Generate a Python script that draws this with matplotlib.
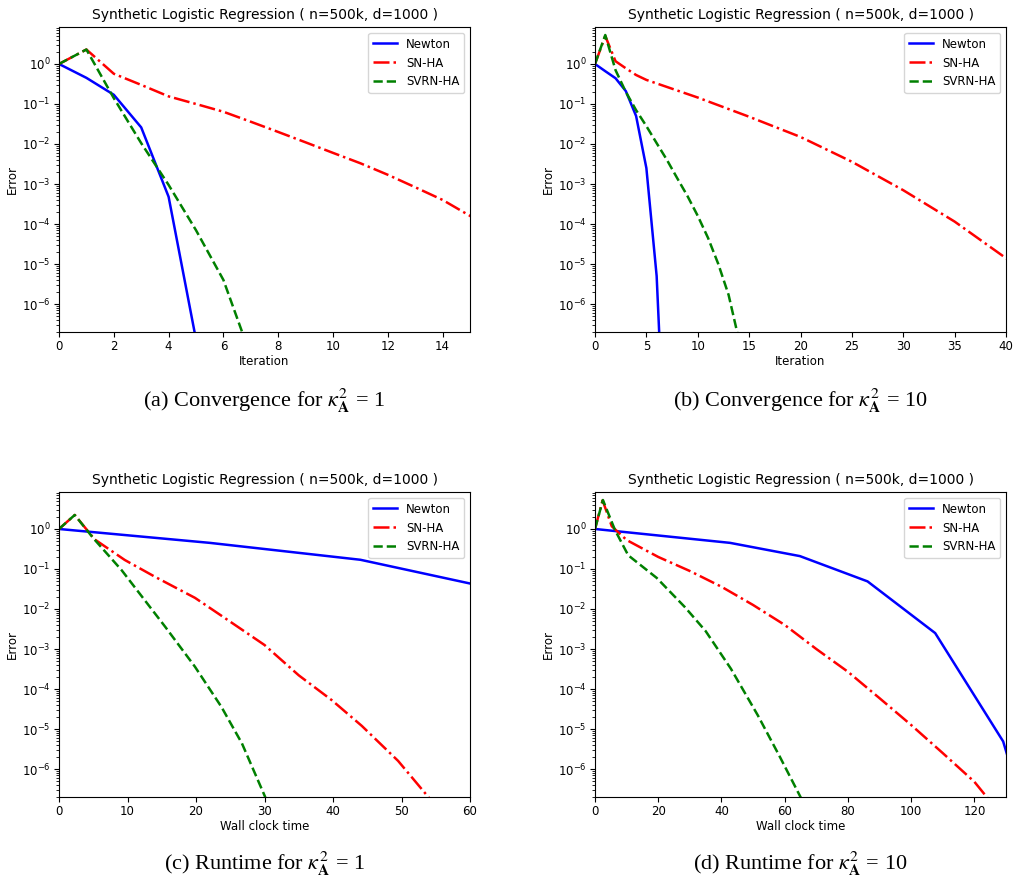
import numpy as np
import matplotlib
matplotlib.use("Agg")
import matplotlib.pyplot as plt

# ---------------- data ----------------
title = "Synthetic Logistic Regression ( n=500k, d=1000 )"
series_names = ["Newton", "SN-HA", "SVRN-HA"]
captions = [r"(a) Convergence for $\kappa^2_{\mathbf{A}}$ = 1",
            r"(b) Convergence for $\kappa^2_{\mathbf{A}}$ = 10",
            r"(c) Runtime for $\kappa^2_{\mathbf{A}}$ = 1",
            r"(d) Runtime for $\kappa^2_{\mathbf{A}}$ = 10"]
xlabels = ["Iteration", "Iteration", "Wall clock time", "Wall clock time"]
xlims = [15, 40, 60, 130]

# (a) kappa^2 = 1, iterations
newton_a_x = [0, 1, 2, 3, 4, 5]
newton_a_y = [1, 0.45, 0.17, 0.026, 4.8e-4, 1.3e-7]
snha_a_x = [0, 1, 2, 3, 4, 5, 6, 7, 8, 9, 10, 11, 12, 13, 14, 15, 16]
snha_a_y = [1, 2.3, 0.57, 0.3, 0.155, 0.1, 0.064, 0.036, 0.02, 0.011,
            6e-3, 3.3e-3, 1.7e-3, 8.3e-4, 4e-4, 1.6e-4, 6e-5]
svrn_a_x = [0, 1, 2, 3, 4, 5, 6, 7]
svrn_a_y = [1, 2.3, 0.14, 0.0105, 9.5e-4, 7e-5, 4e-6, 5e-8]

# (b) kappa^2 = 10, iterations
newton_b_x = [0, 1, 2, 3, 4, 5, 6, 7]
newton_b_y = [1, 0.66, 0.44, 0.21, 0.05, 2.5e-3, 5e-6, 1e-11]
snha_b_x = [0, 1, 2, 3, 4, 5, 10, 15, 20, 25, 30, 35, 40, 41]
snha_b_y = [1, 5, 1.17, 0.78, 0.53, 0.4, 0.145, 0.048, 0.015, 3.6e-3,
            7e-4, 1.15e-4, 1.4e-5, 9e-6]
svrn_b_x = [0, 1, 2, 3, 4, 5, 6, 7, 8, 9, 10, 11, 12, 13, 14]
svrn_b_y = [1, 5.3, 0.7, 0.2, 0.07, 0.028, 0.0105, 4e-3, 1.4e-3, 5e-4,
            1.6e-4, 4.5e-5, 1e-5, 1.7e-6, 1.3e-7]

# (c) kappa^2 = 1, wall clock time
newton_c_x = [0, 22, 44, 66]
newton_c_y = [1, 0.45, 0.17, 0.026]
snha_c_x = [0, 2.3, 5.2, 9.6, 14, 19.85, 24.5, 30, 35, 39.8, 44.2, 49.5, 55]
snha_c_y = [1, 2.24, 0.55, 0.168, 0.064, 0.019, 5.5e-3, 1.26e-3, 2.2e-4,
            5.3e-5, 1.2e-5, 1.6e-6, 1.2e-7]
svrn_c_x = [0, 2.3, 5.0, 9.15, 15.5, 19.85, 23.7, 26.7, 30.1, 31]
svrn_c_y = [1, 2.24, 0.59, 0.093, 3.6e-3, 3.6e-4, 3.6e-5, 4.4e-6, 2e-7, 8e-8]

# (d) kappa^2 = 10, wall clock time
newton_d_x = [0, 21.4, 42.7, 64.8, 86.2, 107.6, 129.1, 150.6]
newton_d_y = [1, 0.67, 0.45, 0.21, 0.049, 2.5e-3, 4.9e-6, 1e-11]
snha_d_x = [0, 2.4, 5.3, 10, 20, 30, 40, 50, 60, 70, 80, 90, 100, 110, 120, 127]
snha_d_y = [1, 5.2, 1.17, 0.53, 0.2, 0.089, 0.036, 0.0126, 4e-3, 1e-3,
            2.7e-4, 5.9e-5, 1.26e-5, 2.5e-6, 4.8e-7, 1e-7]
svrn_d_x = [0, 2.5, 6.3, 10.5, 19.5, 28.5, 35, 43, 51.5, 58.5, 65, 67]
svrn_d_y = [1, 5.3, 0.95, 0.22, 0.06, 0.011, 2.8e-3, 3.2e-4, 2.2e-5,
            2e-6, 2e-7, 1e-7]

panels = [
    [(newton_a_x, newton_a_y), (snha_a_x, snha_a_y), (svrn_a_x, svrn_a_y)],
    [(newton_b_x, newton_b_y), (snha_b_x, snha_b_y), (svrn_b_x, svrn_b_y)],
    [(newton_c_x, newton_c_y), (snha_c_x, snha_c_y), (svrn_c_x, svrn_c_y)],
    [(newton_d_x, newton_d_y), (snha_d_x, snha_d_y), (svrn_d_x, svrn_d_y)],
]

# ---------------- style ----------------
colors = ["blue", "red", "green"]
styles = ["-", "-.", "--"]

W, H = 1014, 880
fig = plt.figure(figsize=(W / 100, H / 100), dpi=100)
plt.rcParams["mathtext.fontset"] = "stix"

ax_w = (470 - 59) / W
ax_h = (332 - 27) / H
lefts = [59 / W, 595 / W, 59 / W, 595 / W]
bottoms = [1 - 332 / H, 1 - 332 / H, 1 - 797 / H, 1 - 797 / H]
cap_y = [1 - 401 / H, 1 - 401 / H, 1 - 864 / H, 1 - 864 / H]

for i in range(4):
    ax = fig.add_axes([lefts[i], bottoms[i], ax_w, ax_h])
    for (xs, ys), name, c, ls in zip(panels[i], series_names, colors, styles):
        ax.plot(xs, ys, color=c, linestyle=ls, linewidth=1.8, label=name)
    ax.set_yscale("log")
    ax.set_ylim(2e-7, 8.4)
    ax.set_xlim(0, xlims[i])
    ax.set_title(title, fontsize=10)
    ax.set_xlabel(xlabels[i], fontsize=8.5, labelpad=1)
    ax.set_ylabel("Error", fontsize=8.5, labelpad=2)
    ax.tick_params(labelsize=8.5, pad=2.5)
    ax.legend(loc="upper right", fontsize=8.5)
    fig.text(lefts[i] + ax_w / 2, cap_y[i], captions[i],
             ha="center", va="center", fontsize=16,
             family=["Liberation Serif", "DejaVu Serif"])

fig.savefig("out.png", dpi=100)
